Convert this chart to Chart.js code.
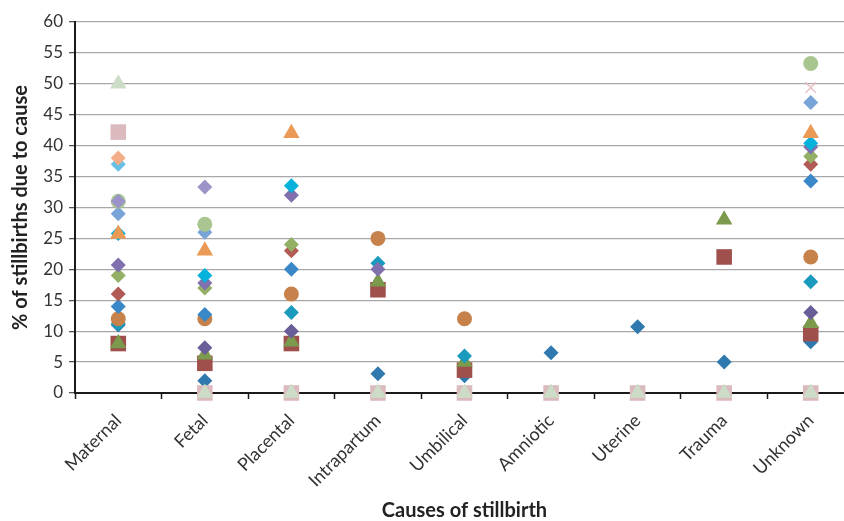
<!DOCTYPE html>
<html>
<head>
<meta charset="utf-8">
<script src="https://cdn.jsdelivr.net/npm/chart.js@4.4.1/dist/chart.umd.min.js"></script>
<style>
  html, body { margin: 0; padding: 0; background: #fff; overflow: hidden; }
  #wrap { width: 844px; height: 521px; overflow: hidden; }
</style>
</head>
<body>
<div id="wrap"><canvas id="ch_stillbirth" width="870" height="521"></canvas></div>
<script>
// Causes of stillbirth — one series per study
const categories = ['Maternal', 'Fetal', 'Placental', 'Intrapartum', 'Umbilical', 'Amniotic', 'Uterine', 'Trauma', 'Unknown'];
const yTicks = [0, 5, 10, 15, 20, 25, 30, 35, 40, 45, 50, 55, 60];

const darkBlueDiamond   = [11, 2, null, 3.1, 2.8, 6.5, 10.7, 5, 8.3];
const redSquare         = [8, 4.8, 8, 16.7, 3.7, null, null, 22, 9.6];
const greenTriangle     = [8, 6.2, 8.3, 18, 5, null, null, 28, 11.3];
const darkPurpleDiamond = [null, 7.3, 10, null, null, null, null, null, 13];
const tealDiamond       = [11.2, null, 13, 21, 6, null, null, null, 18];
const orangeCircle      = [12, 12, 16, 25, 12, null, null, null, 22];
const blueDiamond       = [14, 12.7, 20, null, null, null, null, null, 34.3];
const redDiamond        = [16, null, 23, null, null, null, null, null, 37];
const greenDiamond      = [19, 17, 24, null, null, null, null, null, 38.3];
const purpleDiamond     = [20.7, 17.8, 32, 20, null, null, null, null, 39.8];
const cyanDiamond       = [25.8, 19, 33.5, null, null, null, null, null, 40.4];
const orangeTriangle    = [25.7, 23, 42, null, null, null, null, null, 42];
const steelDiamond      = [29, 26, null, null, null, null, null, null, 47];
const greenCircle       = [31, 27.3, null, null, null, null, null, null, 53.3];
const lavenderDiamond   = [31, 33.3, null, null, null, null, null, null, null];
const skyDiamond        = [37, null, null, null, null, null, null, null, null];
const peachDiamond      = [38, null, null, null, null, null, null, null, null];
const pinkCross         = [null, null, null, null, null, null, null, null, 49.4];
const pinkSquare        = [42.2, 0, 0, 0, 0, 0, 0, 0, 0];
const paleTriangle      = [50, 0, 0, 0, 0, 0, 0, 0, 0];

// bottom-to-top drawing order
const series = [
  { data: darkBlueDiamond,   color: '#2f79ae', style: 'rectRot',  r: 7.5 },
  { data: redSquare,         color: '#9f4f4c', style: 'rect',     r: 11 },
  { data: greenTriangle,     color: '#7b9a4b', style: 'triangle', r: 9.5 },
  { data: darkPurpleDiamond, color: '#6a5e98', style: 'rectRot',  r: 7.5 },
  { data: tealDiamond,       color: '#1a9abd', style: 'rectRot',  r: 7.5 },
  { data: orangeCircle,      color: '#c6824a', style: 'circle',   r: 7.5 },
  { data: blueDiamond,       color: '#3a88c8', style: 'rectRot',  r: 7.5 },
  { data: redDiamond,        color: '#b25a56', style: 'rectRot',  r: 7.5 },
  { data: greenDiamond,      color: '#93b065', style: 'rectRot',  r: 7.5 },
  { data: purpleDiamond,     color: '#8070ae', style: 'rectRot',  r: 7.5 },
  { data: cyanDiamond,       color: '#06b1db', style: 'rectRot',  r: 7.5 },
  { data: orangeTriangle,    color: '#eb9a56', style: 'triangle', r: 9.5 },
  { data: steelDiamond,      color: '#78a4d7', style: 'rectRot',  r: 7.5 },
  { data: greenCircle,       color: '#a9c691', style: 'circle',   r: 7.5 },
  { data: lavenderDiamond,   color: '#9c94c8', style: 'rectRot',  r: 7.5 },
  { data: skyDiamond,        color: '#67c0e6', style: 'rectRot',  r: 7.5 },
  { data: peachDiamond,      color: '#f3ae88', style: 'rectRot',  r: 7.5 },
  { data: pinkCross,         color: '#e8b6ba', style: 'crossRot', r: 7.5 },
  { data: pinkSquare,        color: '#dbbabd', style: 'rect',     r: 11 },
  { data: paleTriangle,      color: '#cddcc6', style: 'triangle', r: 9.5 }
];

const FONT = 'Lato, "Open Sans", sans-serif';

// Chart.js draws the first dataset on top, so reverse
const datasets = series.slice().reverse().map(s => ({
  data: s.data,
  showLine: false,
  pointStyle: s.style,
  pointRadius: s.r,
  pointHoverRadius: s.r,
  pointBackgroundColor: s.color,
  pointBorderColor: s.color,
  pointBorderWidth: s.style === 'crossRot' ? 1.2 : 0,
  clip: false
}));

new Chart(document.getElementById('ch_stillbirth').getContext('2d'), {
  type: 'line',
  data: { labels: categories, datasets },
  options: {
    responsive: false,
    animation: false,
    layout: { padding: { left: 0, right: 16, top: 22, bottom: 0 } },
    plugins: { legend: { display: false }, tooltip: { enabled: false } },
    scales: {
      x: {
        offset: true,
        grid: { offset: true, drawOnChartArea: false, drawTicks: true, tickLength: 6, tickColor: '#1a1a1a', tickWidth: 1.5 },
        border: { color: '#1a1a1a', width: 2 },
        ticks: { color: '#333', font: { family: FONT, size: 18 }, minRotation: 45, maxRotation: 45, padding: 11, autoSkip: false },
        title: { display: true, text: 'Causes of stillbirth', color: '#222', font: { family: FONT, size: 20, weight: 'bold', lineHeight: 1 }, padding: { top: 0, bottom: 0 } },
        afterFit: s => { s.height = 128; }
      },
      y: {
        min: 0, max: 60,
        afterBuildTicks: s => { s.ticks = yTicks.map(v => ({ value: v })); },
        grid: { color: '#a8a8a8', lineWidth: 1.3, tickLength: 6, tickColor: '#555' },
        border: { color: '#1a1a1a', width: 2 },
        ticks: { color: '#333', font: { family: FONT, size: 17 }, padding: 6 },
        title: { display: true, text: '% of stillbirths due to cause', color: '#222', font: { family: FONT, size: 20, weight: 'bold', lineHeight: 1 }, padding: { top: 11, bottom: 0 } },
        afterFit: s => { s.width = 75; }
      }
    }
  }
});
</script>
</body>
</html>
